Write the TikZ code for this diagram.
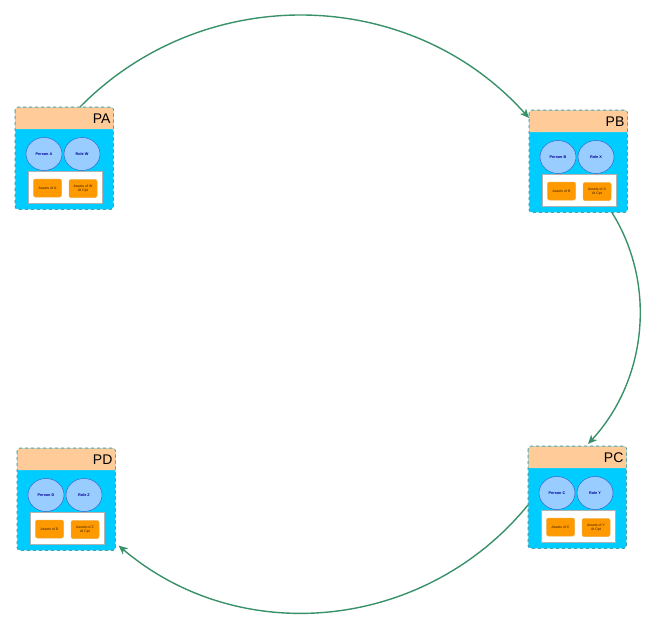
\documentclass[tikz,border=0pt]{standalone}
\usepackage{fontspec}
\setmainfont{Liberation Sans}
\usetikzlibrary{arrows.meta,calc,shapes.geometric,shadows}
\definecolor{cyanbox}{RGB}{0,204,255}
\definecolor{peach}{RGB}{255,204,153}
\definecolor{bubble}{RGB}{153,204,255}
\definecolor{bubbleline}{RGB}{51,102,204}
\definecolor{orng}{RGB}{255,153,0}
\definecolor{orngline}{RGB}{240,170,60}
\definecolor{edgegreen}{RGB}{56,145,105}
\definecolor{dashline}{RGB}{60,150,160}
\tikzset{
  outerbox/.style={draw=dashline, dashed, line width=0.6pt, fill=cyanbox, rounded corners=3pt,
    minimum width=98pt, minimum height=102pt, anchor=north west, inner sep=0pt},
  bubblenode/.style={ellipse, draw=bubbleline, line width=0.5pt, fill=bubble, minimum width=36pt,
    minimum height=33pt, inner sep=0pt, font=\fontsize{3.8}{4.2}\selectfont\bfseries, text=blue!60!black},
  whitebox/.style={draw=white!70!black, line width=0.4pt, fill=white, minimum width=74pt, minimum height=32pt,
    inner sep=0pt, drop shadow={shadow xshift=0.8pt, shadow yshift=-0.8pt, opacity=0.35}},
  assetbox/.style={draw=orngline, line width=0.5pt, fill=orng, rounded corners=2pt, minimum width=28pt,
    minimum height=18pt, inner sep=0pt, align=center, font=\fontsize{3.5}{4}\selectfont, text=black!80!orange},
  headlabel/.style={font=\fontsize{14}{14}\selectfont, anchor=east, inner sep=0pt},
  flow/.style={draw=edgegreen, line width=1.4pt, -{Stealth[length=9pt,width=8pt,inset=2.5pt]}},
}
\newcommand\moduleblock[6]{%
  \node[outerbox] (#1) at (#2) {};
  \fill[peach] ($(#1.north west)+(0.3,22)$) [rounded corners=3pt] -- ($(#1.north west)+(0.3,0.3)$) -- ($(#1.north east)+(-0.3,0.3)$) [sharp corners] -- ($(#1.north east)+(-0.3,22)$) -- cycle;
  \draw[dashline, dashed, line width=0.6pt, rounded corners=3pt] (#1.north west) rectangle (#1.south east);
  \node[headlabel] (#1h) at ($(#1.north east)+(-3,12)$) {#1};
  \node[bubblenode] (#1p) at ($(#1.north west)+(29,47)$) {#3};
  \node[bubblenode] (#1r) at ($(#1.north west)+(67,47)$) {#4};
  \node[whitebox] (#1w) at ($(#1.north west)+(50,80)$) {};
  \node[assetbox] (#1a) at ($(#1.north west)+(32.5,81)$) {#5};
  \node[assetbox] (#1b) at ($(#1.north west)+(68,81.5)$) {#6};
}
\begin{document}
\begin{tikzpicture}[x=1pt,y=-1pt]
\useasboundingbox (0,0) rectangle (654,624);
\moduleblock{PA}{15,107}{Person A}{Role W}{Assets of A}{Assets of W\\At Cpt}
\moduleblock{PB}{529,110}{Person B}{Role X}{Assets of B}{Assets of X\\At Cpt}
\moduleblock{PC}{528,446}{Person C}{Role Y}{Assets of C}{Assets of Y\\At Cpt}
\moduleblock{PD}{17,448}{Person D}{Role Z}{Assets of D}{Assets of Z\\At Cpt}
\draw[flow] ($(PA.north west)+(65,0)$) .. controls (204,-19) and (410.5,-14.4) .. ($(PB.north west)+(0,8)$);
\draw[flow] ($(PB.south west)+(83,0)$) .. controls (657.3,285.4) and (646.4,380.6) .. ($(PC.north west)+(60,-2)$);
\draw[flow] ($(PC.north west)+(0,59)$) .. controls (425.5,630.5) and (241,649.3) .. ($(PD.south east)+(3,-5)$);
\end{tikzpicture}
\end{document}
